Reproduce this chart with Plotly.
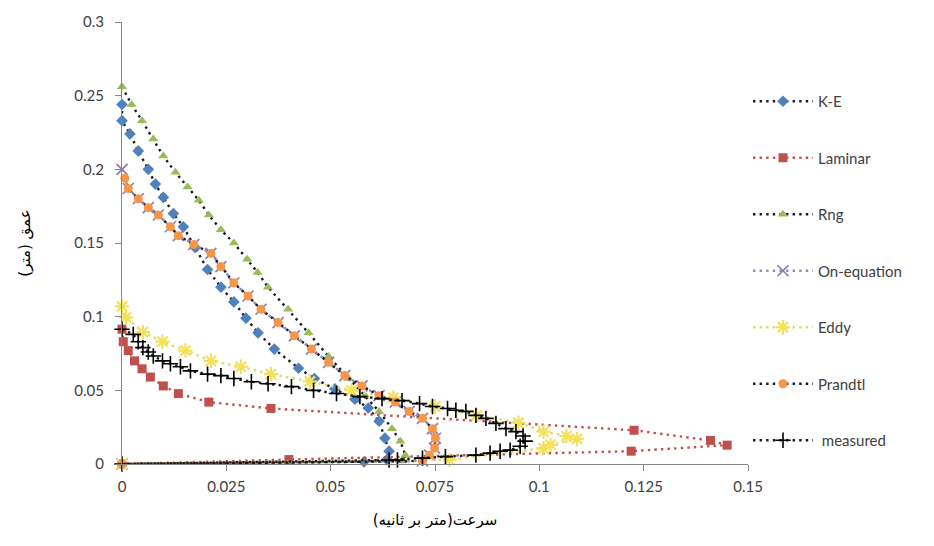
import plotly.graph_objects as go

# ---- data (velocity m/s, depth m) ----
ke_v = [0, 0, 0.0019, 0.0039, 0.0063, 0.008, 0.0099, 0.0123, 0.0147, 0.0175, 0.0205, 0.0237, 0.0268, 0.0297,
        0.0326, 0.0365, 0.0423, 0.0461, 0.051, 0.0558, 0.059, 0.0616, 0.063, 0.064, 0.0635, 0.058, 0]
ke_d = [0.244, 0.233, 0.224, 0.2125, 0.2, 0.19, 0.181, 0.170, 0.161, 0.147, 0.132, 0.120, 0.110, 0.099,
        0.089, 0.078, 0.065, 0.058, 0.051, 0.044, 0.038, 0.029, 0.0175, 0.0087, 0.003, 0.0015, 0]

lam_v = [0, 0.0003, 0.0015, 0.003, 0.0048, 0.0068, 0.0099, 0.0135, 0.0208, 0.0357, 0.1227, 0.141, 0.145,
         0.122, 0.040, 0]
lam_d = [0.0915, 0.083, 0.077, 0.070, 0.0646, 0.059, 0.053, 0.0478, 0.042, 0.0377, 0.0229, 0.016, 0.0128,
         0.0087, 0.003, 0]

rng_v = [0, 0.0023, 0.0048, 0.0075, 0.0099, 0.0128, 0.0157, 0.0184, 0.0208, 0.0237, 0.0268, 0.0300, 0.0325,
         0.035, 0.0398, 0.0447, 0.0495, 0.0543, 0.0582, 0.0616, 0.0647, 0.0667, 0.0679, 0.067, 0]
rng_d = [0.256, 0.244, 0.233, 0.2206, 0.209, 0.198, 0.188, 0.179, 0.169, 0.159, 0.150, 0.139, 0.130,
         0.120, 0.105, 0.089, 0.073, 0.058, 0.0465, 0.0357, 0.024, 0.0155, 0.006, 0.002, 0]

oneq_v = [0, 0.0015, 0.0039, 0.0063, 0.0087, 0.0116, 0.0135, 0.0172, 0.0213, 0.0237, 0.0268, 0.0302, 0.0333,
          0.0374, 0.0413, 0.0454, 0.0495, 0.0534, 0.0575, 0.0616, 0.0655, 0.0688, 0.072, 0.0744, 0.0751,
          0.0749, 0.0737, 0.072, 0]
oneq_d = [0.2, 0.187, 0.180, 0.174, 0.169, 0.161, 0.155, 0.149, 0.143, 0.134, 0.123, 0.114, 0.105,
          0.096, 0.087, 0.078, 0.069, 0.060, 0.053, 0.0464, 0.042, 0.0357, 0.031, 0.024, 0.0175,
          0.0108, 0.006, 0.002, 0]

eddy_v = [0, 0.001, 0.005, 0.0097, 0.0152, 0.0213, 0.0285, 0.0357, 0.045, 0.055, 0.065, 0.075, 0.085,
          0.095, 0.101, 0.1065, 0.109, 0.1027, 0.101, 0.0785, 0]
eddy_d = [0.107, 0.0995, 0.0895, 0.083, 0.077, 0.070, 0.066, 0.061, 0.056, 0.050, 0.045, 0.039, 0.033,
          0.028, 0.022, 0.019, 0.017, 0.013, 0.0108, 0.003, 0]

pr_v = [0.0007, 0.0015, 0.0039, 0.0063, 0.0087, 0.0116, 0.0135, 0.0172, 0.0213, 0.0237, 0.0268, 0.0302,
        0.0333, 0.0374, 0.0413, 0.0454, 0.0495, 0.0534, 0.0575, 0.0616, 0.0655, 0.0688, 0.072, 0.0744,
        0.0751, 0.0749, 0.0737, 0.072, 0]
pr_d = [0.194, 0.187, 0.180, 0.174, 0.169, 0.161, 0.155, 0.149, 0.143, 0.134, 0.123, 0.114,
        0.105, 0.096, 0.087, 0.078, 0.069, 0.060, 0.053, 0.0464, 0.042, 0.0357, 0.031, 0.024,
        0.0175, 0.0108, 0.006, 0.002, 0]

me_v = [0, 0.0027, 0.0039, 0.005, 0.0063, 0.0075, 0.0097, 0.0116, 0.014, 0.0164, 0.0205, 0.0237, 0.0268,
        0.031, 0.035, 0.0406, 0.0459, 0.0514, 0.057, 0.0623, 0.0671, 0.0713, 0.0744, 0.078, 0.080, 0.0824,
        0.0848, 0.0872, 0.0896, 0.092, 0.0944, 0.0961, 0.0966, 0.0954, 0.093, 0.0906, 0.0882, 0.0848,
        0.0775, 0.072, 0.066, 0.064, 0]
me_d = [0.0915, 0.088, 0.083, 0.079, 0.076, 0.0733, 0.070, 0.068, 0.066, 0.0632, 0.061, 0.060, 0.058,
        0.0558, 0.0545, 0.0525, 0.050, 0.0478, 0.0457, 0.0444, 0.043, 0.041, 0.039, 0.0377, 0.0365, 0.0357,
        0.033, 0.031, 0.0276, 0.024, 0.022, 0.019, 0.0155, 0.012, 0.0094, 0.0087, 0.0074, 0.006,
        0.005, 0.004, 0.0027, 0.0027, 0]

series_names = ["K-E", "Laminar", "Rng", "On-equation", "Eddy", "Prandtl", " measured"]
x_title = "سرعت(متر بر ثانیه)"
y_title = "عمق (متر)"

styles = [
    (dict(symbol="diamond", size=9, color="#4F81BD"), "#1a1a1a"),
    (dict(symbol="square", size=9, color="#C0504D"), "#C0504D"),
    (dict(symbol="triangle-up", size=9, color="#9BBB59"), "#1a1a1a"),
    (dict(symbol="x-thin-open", size=11, color="#8A7AB0", line=dict(width=1.6, color="#8A7AB0")), "#8A8FB0"),
    (dict(symbol="asterisk-open", size=12, color="#F3E15A", line=dict(width=2.2, color="#F3E15A")), "#D8DC6A"),
    (dict(symbol="circle", size=9, color="#F79646"), "#1a1a1a"),
    (dict(symbol="cross-thin-open", size=11, color="#000000", line=dict(width=1.6, color="#000000")), "#1a1a1a"),
]
data = [(ke_v, ke_d), (lam_v, lam_d), (rng_v, rng_d), (oneq_v, oneq_d),
        (eddy_v, eddy_d), (pr_v, pr_d), (me_v, me_d)]

fig = go.Figure()
for i, (name, (v, d), (mk, lc)) in enumerate(zip(series_names, data, styles)):
    fig.add_trace(go.Scatter(
        x=v, y=d, name=name, mode="lines+markers",
        line=dict(color=lc, width=2.4, dash="2.4px,4.2px"),
        marker=mk, cliponaxis=False, legendgroup=f"g{i}",
    ))

fig.update_layout(
    width=926, height=538,
    margin=dict(l=114, r=186, t=14, b=82),
    paper_bgcolor="white", plot_bgcolor="white",
    font=dict(family="Lato, Open Sans, sans-serif", size=15, color="#404040"),
    legend=dict(x=1.0, y=0.8575, xanchor="left", yanchor="top", tracegroupgap=34,
                itemwidth=60,
                font=dict(size=15, color="#404040"), bgcolor="rgba(0,0,0,0)"),
    xaxis=dict(range=[0, 0.15], dtick=0.025, tick0=0, showgrid=False, zeroline=False,
               showline=True, linecolor="#868686", linewidth=1, ticks="outside",
               tickcolor="#868686", ticklen=6, automargin=False, ticklabelstandoff=3,
               title=dict(text=x_title, font=dict(family="DejaVu Sans", size=15, color="#000000"),
                          standoff=20)),
    yaxis=dict(range=[0, 0.3], dtick=0.05, tick0=0, showgrid=False, zeroline=False,
               showline=True, linecolor="#868686", linewidth=1, ticks="outside",
               tickcolor="#868686", ticklen=6, automargin=False, ticklabelstandoff=8,
               title=dict(text=y_title, font=dict(family="DejaVu Sans", size=15, color="#000000"),
                          standoff=40)),
)

fig.write_html("out.html")
